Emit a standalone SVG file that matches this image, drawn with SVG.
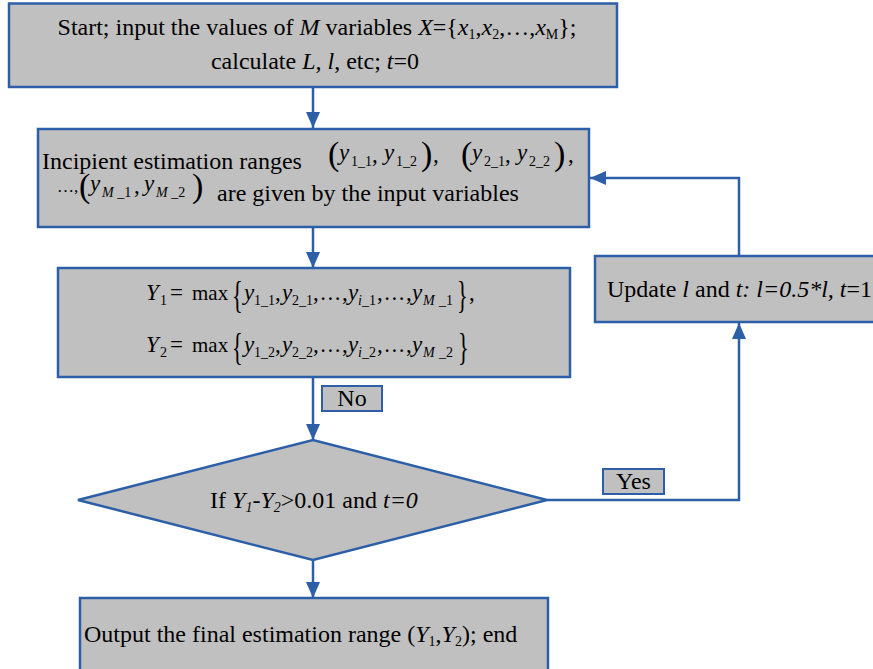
<svg xmlns="http://www.w3.org/2000/svg" width="873" height="669" viewBox="0 0 873 669">
<defs>
<marker id="ah" markerUnits="userSpaceOnUse" markerWidth="16" markerHeight="14" viewBox="0 0 16 14" refX="16" refY="7" orient="auto">
<path d="M0,0 L16,7 L0,14 Z" fill="#2c5fa8"/>
</marker>
<style>
.box{fill:#c0c0c0;stroke:#2c5fa8;stroke-width:2.5}
.lbl{fill:#c0c0c0;stroke:#2c5fa8;stroke-width:2}
.c{fill:none;stroke:#2c5fa8;stroke-width:2.5;marker-end:url(#ah)}
text{font-family:"Liberation Serif","Times New Roman",serif;font-size:24px;fill:#000}
.m{font-size:23px}
.mx{font-size:21px}
.i{font-style:italic}
.s{font-size:14px}
.p{font-size:34px}
.br{font-size:28px}
</style>
</defs>
<rect width="873" height="669" fill="#fff"/>

<g id="connectors">
<path class="c" d="M313,87 V128"/>
<path class="c" d="M313,227 V268"/>
<path class="c" d="M313,377 V440"/>
<path class="c" d="M313,560 V598"/>
<path class="c" d="M547,500 H739 V323"/>
<path class="c" d="M739,256 V178 H590"/>
</g>

<g id="start">
<rect class="box" x="9" y="3.5" width="608" height="83.5"/>
<text x="317" y="35" text-anchor="middle">Start; input the values of <tspan class="i">M</tspan> variables <tspan class="i">X</tspan>={<tspan class="i">x</tspan><tspan class="s" dy="4">1</tspan><tspan dy="-4">,</tspan><tspan class="i">x</tspan><tspan class="s" dy="4">2</tspan><tspan dy="-4">,…,</tspan><tspan class="i">x</tspan><tspan class="s" dy="4">M</tspan><tspan dy="-4">};</tspan></text>
<text x="315" y="69" text-anchor="middle">calculate <tspan class="i">L, l</tspan>, etc; <tspan class="i">t</tspan>=0</text>
</g>

<g id="init">
<rect class="box" x="38" y="129" width="551" height="98"/>
<text x="42" y="169">Incipient estimation ranges</text>
<text x="328" y="165" class="p">(</text>
<text x="339" y="160" class="i m">y</text>
<text x="351" y="166" class="s">1_1</text>
<text x="372" y="162" class="m">,</text>
<text x="384" y="160" class="i m">y</text>
<text x="396" y="166" class="s">1_2</text>
<text x="421" y="165" class="p">)</text>
<text x="433" y="162" class="m">,</text>
<text x="461" y="165" class="p">(</text>
<text x="472" y="160" class="i m">y</text>
<text x="484" y="166" class="s">2_1</text>
<text x="505" y="162" class="m">,</text>
<text x="517" y="160" class="i m">y</text>
<text x="529" y="166" class="s">2_2</text>
<text x="554" y="165" class="p">)</text>
<text x="568" y="162" class="m">,</text>
<text x="57" y="192" style="font-size:17px">…,</text>
<text x="79" y="197" class="p">(</text>
<text x="90" y="191" class="i m">y</text>
<text x="102" y="197" class="s"><tspan class="i">M</tspan> _1</text>
<text x="134" y="193" class="m">,</text>
<text x="144" y="191" class="i m">y</text>
<text x="156" y="197" class="s"><tspan class="i">M</tspan> _2</text>
<text x="192" y="197" class="p">)</text>
<text x="217" y="201">are given by the input variables</text>
</g>

<g id="max">
<rect class="box" x="58" y="268" width="512" height="109"/>
<text x="146" y="300" class="i m">Y</text>
<text x="160" y="305" class="s">1</text>
<text x="170" y="300" class="m">=</text>
<text x="192" y="300" class="mx">max</text>
<text class="br" transform="translate(232,308) scale(0.8,1.35)">{</text>
<text x="244" y="300" class="i m">y</text>
<text x="254" y="305" class="s">1_1</text>
<text x="275" y="300" class="m">,</text>
<text x="282" y="300" class="i m">y</text>
<text x="292" y="305" class="s">2_1</text>
<text x="313" y="300" class="m" letter-spacing="1.5">,...,</text>
<text x="348" y="300" class="i m">y</text>
<text x="358" y="305" class="s"><tspan class="i">i</tspan>_1</text>
<text x="377" y="300" class="m" letter-spacing="1.5">,...,</text>
<text x="412" y="300" class="i m">y</text>
<text x="423" y="305" class="s i">M</text>
<text x="439" y="305" class="s">_1</text>
<text class="br" transform="translate(457,308) scale(0.8,1.35)">}</text>
<text x="469" y="300" class="m">,</text>

<text x="146" y="352" class="i m">Y</text>
<text x="160" y="357" class="s">2</text>
<text x="170" y="352" class="m">=</text>
<text x="192" y="352" class="mx">max</text>
<text class="br" transform="translate(232,360) scale(0.8,1.35)">{</text>
<text x="244" y="352" class="i m">y</text>
<text x="254" y="357" class="s">1_2</text>
<text x="275" y="352" class="m">,</text>
<text x="282" y="352" class="i m">y</text>
<text x="292" y="357" class="s">2_2</text>
<text x="313" y="352" class="m" letter-spacing="1.5">,...,</text>
<text x="348" y="352" class="i m">y</text>
<text x="358" y="357" class="s"><tspan class="i">i</tspan>_2</text>
<text x="377" y="352" class="m" letter-spacing="1.5">,...,</text>
<text x="412" y="352" class="i m">y</text>
<text x="423" y="357" class="s i">M</text>
<text x="439" y="357" class="s">_2</text>
<text class="br" transform="translate(458,360) scale(0.8,1.35)">}</text>
</g>

<g id="update">
<rect class="box" x="595" y="256" width="290" height="66"/>
<text x="607" y="297">Update <tspan class="i">l</tspan> and <tspan class="i">t: l=0.5*l, t</tspan>=1</text>
</g>

<g id="decision">
<polygon class="box" points="78,500 313,440 547,500 313,560"/>
<text x="314" y="508" text-anchor="middle">If <tspan class="i">Y</tspan><tspan class="s i" dy="4">1</tspan><tspan dy="-4">-</tspan><tspan class="i">Y</tspan><tspan class="s i" dy="4">2</tspan><tspan dy="-4">&gt;0.01 and </tspan><tspan class="i">t=0</tspan></text>
</g>

<g id="no-label">
<rect class="lbl" x="322" y="386" width="60" height="25"/>
<text x="352" y="406" text-anchor="middle">No</text>
</g>

<g id="yes-label">
<rect class="lbl" x="603" y="469" width="61" height="25"/>
<text x="633.5" y="489" text-anchor="middle">Yes</text>
</g>

<g id="output">
<rect class="box" x="80" y="598" width="468" height="80"/>
<text x="84" y="642">Output the final estimation range (<tspan class="i">Y</tspan><tspan class="s" dy="4">1</tspan><tspan dy="-4">,</tspan><tspan class="i">Y</tspan><tspan class="s" dy="4">2</tspan><tspan dy="-4">); end</tspan></text>
</g>
</svg>
